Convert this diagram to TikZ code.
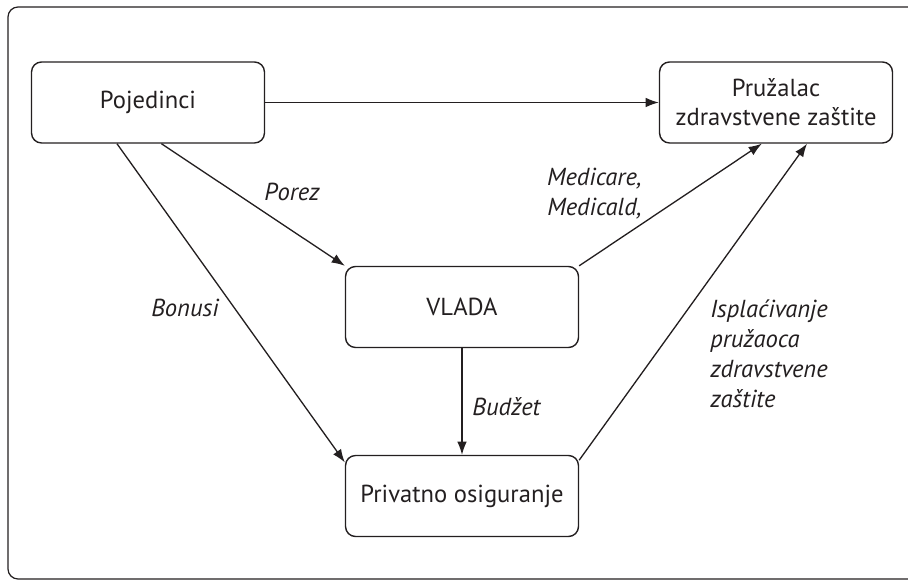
\documentclass[tikz,border=0pt]{standalone}
\usepackage{fontspec}
\setmainfont{PT Sans}
\usetikzlibrary{arrows.meta}
\definecolor{almost-black}{HTML}{231f20}

\begin{document}
\begin{tikzpicture}[
    x=0.02cm, y=-0.02cm,
    every node/.style={
        text=almost-black,
        font=\fontsize{14}{16.5}\selectfont,
    },
    box/.style={
        draw=almost-black, line width=0.8pt, rounded corners=0.2cm,
        minimum width=4.66cm, minimum height=1.62cm, inner sep=0pt,
        align=center,
    },
    flow/.style={
        draw=almost-black, line width=0.75pt,
        -{Latex[length=7.5pt,width=5.5pt]},
    },
    lbl/.style={
        font=\fontsize{14}{17}\selectfont\itshape, inner sep=0pt,
    },
]
\useasboundingbox (0,0) rectangle (908,580);
\draw[almost-black, line width=0.7pt, rounded corners=0.2cm] (8,7) rectangle (940,579);

% the four parties
\node[box] (pojedinci) at (148,102.5) {Pojedinci};
\node[box] (pruzalac) at (776,102.5) {Pružalac\\zdravstvene zaštite};
\node[box] (vlada) at (462,307) {VLADA};
\node[box] (privatno) at (462,496) {Privatno osiguranje};

% money flows
\draw[flow] (pojedinci.east) -- (pruzalac.west);
\draw[flow] (pojedinci.-72) -- (vlada.north west);
\draw[flow] (pojedinci.233.5) -- (privatno.164);
\draw[flow] (vlada.north east) -- (pruzalac.251);
\draw[flow] (vlada.south) -- (privatno.north);
\draw[flow] (privatno.17) -- (pruzalac.307);

% labels
\node[lbl] (porez) at (292,192) {Porez};
\node[lbl] (bonusi) at (185,308) {Bonusi};
\node[lbl, anchor=east, align=right] (medicare) at (642,194) {Medicare,\\Medicald,};
\node[lbl, anchor=west] (budzet) at (472,407) {Budžet};
\node[lbl, anchor=west, align=left] (isplata) at (710,354)
    {Isplaćivanje\\pružaoca\\zdravstvene\\zaštite};
\end{tikzpicture}
\end{document}
